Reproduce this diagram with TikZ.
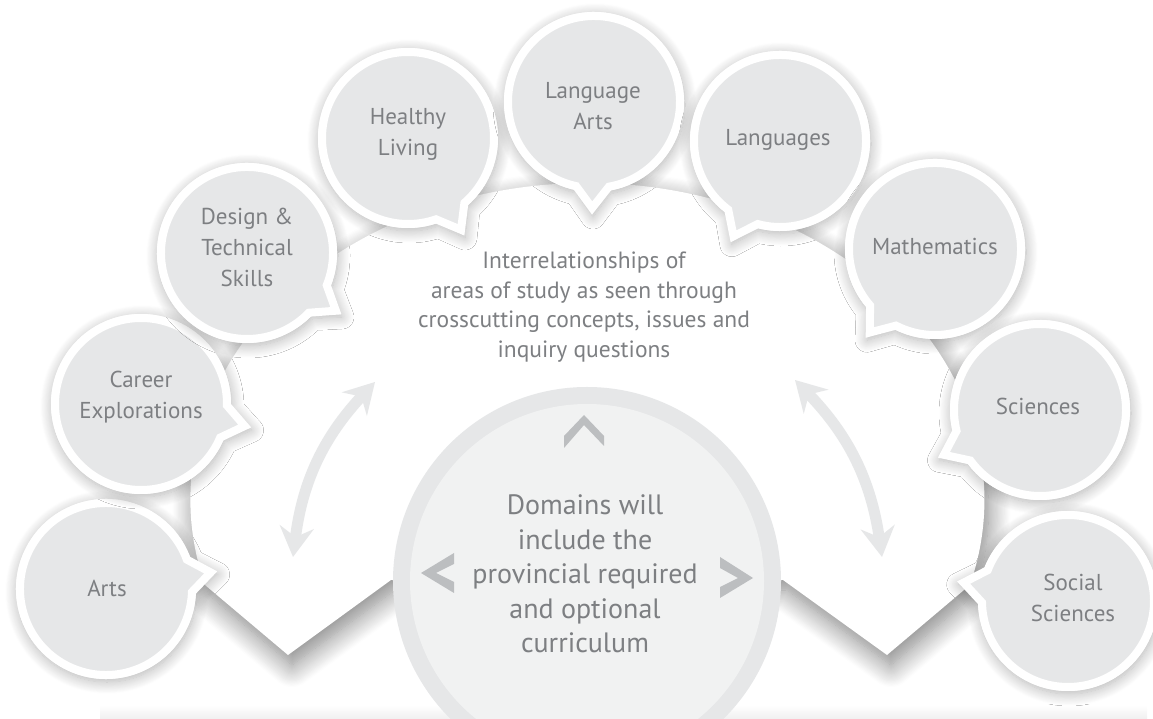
\documentclass[tikz,border=0pt]{standalone}
\usepackage{fontspec}
\setmainfont{PT Sans}
\usetikzlibrary{arrows.meta,shadows.blur,calc}
\definecolor{bubblegray}{HTML}{E6E7E8}
\definecolor{txtgray}{HTML}{7D7F82}
\definecolor{innergray}{HTML}{F1F2F2}
\definecolor{chevgray}{HTML}{BCBEC0}
\definecolor{arrowgray}{HTML}{E6E7E8}
\tikzset{
  bubbletext/.style={text=txtgray, font=\fontsize{23}{31}\selectfont, align=center, inner sep=0pt},
  maintext/.style={text=txtgray, font=\fontsize{23.5}{29.5}\selectfont, align=center, inner sep=0pt},
  centertext/.style={text=txtgray, font=\fontsize{28}{34.5}\selectfont, align=center, inner sep=0pt},
  dblarrow/.style={draw=arrowgray, line width=11pt,
     {Stealth[length=30pt,width=34pt,inset=10pt]}-{Stealth[length=30pt,width=34pt,inset=10pt]}},
  chevron/.style={fill=chevgray, draw=none},
  bubshadow/.style={blur shadow={shadow xshift=1pt, shadow yshift=-3pt, shadow blur radius=12pt, shadow blur steps=14, shadow opacity=30}},
  shapeshadow/.style={blur shadow={shadow xshift=4pt, shadow yshift=-10pt, shadow blur radius=22pt, shadow blur steps=20, shadow opacity=50}}
}
\newcommand\speechbubble[2]{%
  \pgfmathsetmacro\bsa{#2+11}%
  \pgfmathsetmacro\bea{#2+349}%
  \fill[white, bubshadow] ([shift={(\bsa:90pt)}]#1) arc[start angle=\bsa, end angle=\bea, radius=90pt]
     -- ([shift={(#2:112pt)}]#1) -- cycle;
  \filldraw[fill=bubblegray, draw=white, line width=8pt, line join=miter, miter limit=10]
     ([shift={(\bsa:86pt)}]#1) arc[start angle=\bsa, end angle=\bea, radius=86pt]
     -- ([shift={(#2:106pt)}]#1) -- cycle;
}
\begin{document}
\begin{tikzpicture}[x=1pt,y=1pt]
\useasboundingbox (0,0) rectangle (1153,719);
% bottom bar
\shade[top color=white, bottom color=black!6] (100,0) rectangle (1147,14);
% big white fan shape
\coordinate (fanL) at (205,134);
\coordinate (fanR) at (969,134);
\coordinate (vR) at (887,64);
\coordinate (vL) at (288,64);
\coordinate (cR) at (783,139);
\coordinate (cL) at (391,139);
\coordinate (cM) at (587,138);
\fill[white, shapeshadow] (fanL) arc[start angle=195.55, end angle=-15.55, x radius=397pt, y radius=317pt]
   -- (vR) -- (cR) -- (cM) -- (cL) -- (vL) -- cycle;
% bubble centres
\coordinate (artsC) at (106,130);
\coordinate (careerC) at (141,315);
\coordinate (designC) at (247,466);
\coordinate (healthyC) at (408,581);
\coordinate (langartsC) at (594,617);
\coordinate (languagesC) at (780,578);
\coordinate (mathC) at (935,470);
\coordinate (sciC) at (1040,309);
\coordinate (socialC) at (1068,118);
\speechbubble{artsC}{9}
\speechbubble{careerC}{-12}
\speechbubble{designC}{-33}
\speechbubble{healthyC}{-60}
\speechbubble{langartsC}{-91}
\speechbubble{languagesC}{-116}
\speechbubble{mathC}{-128}
\speechbubble{sciC}{205}
\speechbubble{socialC}{170}
% central circle
\fill[bubblegray] (cM) circle[radius=194pt];
\fill[innergray] (cM) circle[radius=177pt];
% chevrons
\fill[chevron] (564,283) -- (584,304) -- (604,283) -- (604,273) -- (584,294) -- (564,271) -- cycle;
\fill[chevron] (454,166) -- (421,146) -- (454,126) -- (454,137) -- (436,146) -- (454,155) -- cycle;
\fill[chevron] (720,162) -- (753,141) -- (720,121) -- (720,132) -- (738,141) -- (720,151) -- cycle;
% curved arrows
\coordinate (la1) at (293,162);
\coordinate (la2) at (375,337);
\coordinate (ra1) at (882,162);
\coordinate (ra2) at (795,339);
\draw[dblarrow] (la1) to[bend left=18] (la2);
\draw[dblarrow] (ra1) to[bend right=18] (ra2);
% texts
\node[bubbletext] (arts) at (107,131) {Arts};
\node[bubbletext] (career) at (141,322) {Career\\Explorations};
\node[bubbletext] (design) at (247,472) {Design \&\\Technical\\Skills};
\node[bubbletext] (healthy) at (408,585) {Healthy\\Living};
\node[bubbletext] (langarts) at (593,613) {Language\\Arts};
\node[bubbletext] (languages) at (778,579) {Languages};
\node[bubbletext] (math) at (935,472) {Mathematics};
\node[bubbletext] (sci) at (1038,313) {Sciences};
\node[bubbletext] (social) at (1073,121) {Social\\Sciences};
\node[maintext] (inter) at (584,412) {Interrelationships of\\areas of study as seen through\\crosscutting concepts, issues and\\inquiry questions};
\node[centertext] (domains) at (585,145) {Domains will\\include the\\provincial required\\and optional\\curriculum};
\end{tikzpicture}
\end{document}
